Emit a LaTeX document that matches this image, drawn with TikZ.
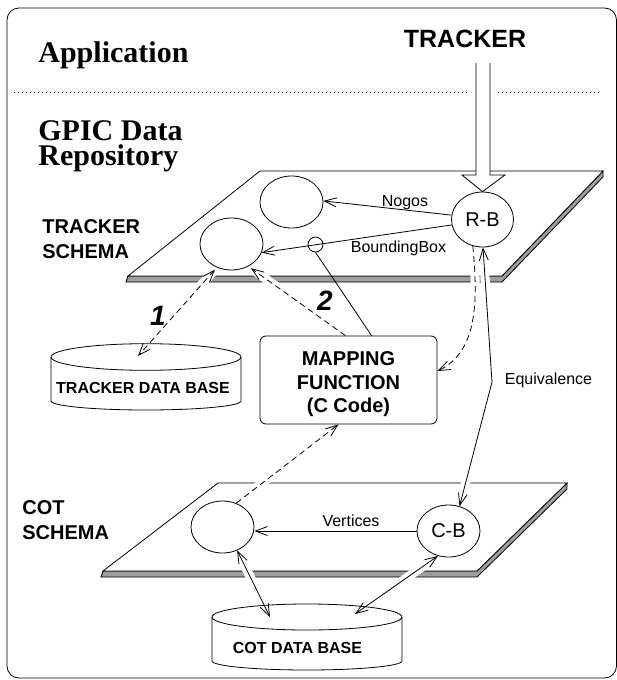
\documentclass[tikz,border=0pt]{standalone}
\usepackage{fontspec}
\setmainfont{Liberation Serif}
\setsansfont{Liberation Sans}
\usetikzlibrary{arrows.meta,shapes.geometric,calc}
\begin{document}
\begin{tikzpicture}[x=1pt,y=-1pt,line width=0.8pt,
  >={Straight Barb[length=12pt,width=9pt]},
  ell/.style={draw,ellipse,minimum width=63pt,minimum height=52pt,inner sep=0pt,
    font=\sffamily\fontsize{20}{24}\selectfont},
  lbl/.style={inner sep=0pt,anchor=base,font=\sffamily\fontsize{16}{19}\selectfont},
  blbl/.style={inner sep=0pt,anchor=base west,font=\sffamily\bfseries\fontsize{20}{24}\selectfont},
  mlbl/.style={inner sep=0pt,anchor=base,font=\sffamily\bfseries\fontsize{20}{24}\selectfont},
  dblbl/.style={inner sep=0pt,anchor=base,font=\sffamily\bfseries\fontsize{16}{19}\selectfont},
  ttl/.style={inner sep=0pt,anchor=base west,font=\rmfamily\bfseries\fontsize{30}{32}\selectfont},
  num/.style={inner sep=0pt,anchor=base,font=\sffamily\bfseries\itshape\fontsize{28}{30}\selectfont},
  dsh/.style={dash pattern=on 6pt off 4pt},
  plane/.style={fill=white,draw,line join=miter},
  shadowband/.style={fill=black!38,draw,line join=miter},
  halo/.style={draw=white,line width=9pt},
  dots/.style={line width=0.7pt,dash pattern=on 1pt off 3pt}]

\useasboundingbox (0,0) rectangle (617,680);
\draw[rounded corners=12pt] (7,8) rectangle (616.5,678);

% titles
\node[ttl] (app) at (38,62) {Application};
\node[ttl,text height=20pt,text depth=0pt] (gpic1) at (38,140) {GPIC Data};
\node[ttl,text height=18pt] (gpic2) at (38,165) {Repository};
\node[inner sep=0pt,anchor=base,font=\sffamily\bfseries\fontsize{25}{28}\selectfont] (trk) at (465,47) {TRACKER};

% dotted separator
\coordinate (d1) at (14,92);
\coordinate (d2) at (470,92);
\coordinate (d3) at (498,92);
\coordinate (d4) at (600,92);
\draw[dots] (d1) -- (d2) (d3) -- (d4);

% planes
\draw[shadowband] (128,276) -- (502,276) -- (603,171) -- (603,177) -- (502,282) -- (126,282) -- cycle;
\draw[plane] (260,171) -- (603,171) -- (502,276) -- (128,276) -- cycle;
\draw[shadowband] (103,571) -- (477,571) -- (567,483) -- (567,489) -- (477,577) -- (101,577) -- cycle;
\draw[plane] (218,483) -- (567,483) -- (477,571) -- (103,571) -- cycle;

% schema labels
\node[blbl] (ts1) at (42,233) {TRACKER};
\node[blbl] (ts2) at (42,258) {SCHEMA};
\node[blbl] (cs1) at (22,514) {COT};
\node[blbl] (cs2) at (22,539) {SCHEMA};

% nodes
\node[ell] (e1) at (291.5,202) {};
\node[ell] (e2) at (231.5,244) {};
\node[ell,minimum width=62pt,minimum height=55pt] (rb) at (482.5,219.5) {R-B};
\node[draw,circle,minimum size=15pt,inner sep=0pt] (sc) at (315.5,244.5) {};
\node[ell] (e3) at (222.5,527) {};
\node[ell] (cb) at (448.5,531) {C-B};

\node[draw,rounded corners=6pt,minimum width=177pt,minimum height=88pt,inner sep=0pt] (mf) at (348.5,380) {};
\node[mlbl] (mf1) at (348.5,365) {MAPPING};
\node[mlbl] (mf2) at (348.5,389) {FUNCTION};
\node[mlbl] (mf3) at (348.5,412) {(C Code)};

% cylinders
\draw (51,357) -- (51,401) arc[start angle=180,end angle=0,x radius=95,y radius=9] -- (241,357);
\draw (146,357) ellipse[x radius=95,y radius=13.3];
\node[dblbl] (tdb) at (143,393) {TRACKER DATA BASE};
\coordinate (tdbtop) at (138,356);

\draw (212,617) -- (212,661) arc[start angle=180,end angle=0,x radius=95,y radius=9] -- (402,617);
\draw (307,617) ellipse[x radius=95,y radius=13];
\node[dblbl] (cdb) at (297.5,653) {COT DATA BASE};
\coordinate (cdbtop1) at (270,617);
\coordinate (cdbtop2) at (355,614);

% helper coordinates
\coordinate (mfn) at ($(mf.north)+(-3,0)$);
\coordinate (mfn2) at ($(mf.north west)+(112,0)$);
\coordinate (mfe) at ($(mf.east)+(0,-9)$);
\coordinate (mfs) at ($(mf.south)+(-10,0)$);
\coordinate (eqb) at (492,382);

% white gaps where connectors cross plane edges
\begin{scope}
\clip (100,272.5) rectangle (520,284) (200,479.5) rectangle (580,486.5) (95,568.5) rectangle (500,580);
\draw[halo] (e2.-122) -- (tdbtop);
\draw[halo] (mfn) -- (e2.-53);
\draw[halo] (rb.-110) .. controls (478,300) and (478,352) .. (mfe);
\draw[halo] (rb.-89) -- (eqb) -- (cb.66);
\draw[halo] (e3.60) -- (mfs);
\draw[halo] (e3.-58) -- (cdbtop1);
\draw[halo] (cb.-113) -- (cdbtop2);
\end{scope}

% TRACKER block arrow
\coordinate (ta1) at (476,63);
\coordinate (ta2) at (490,63);
\fill[white] (ta1) -- (476,175) -- (462,175) -- (rb.north) -- (505,175) -- (490,175) -- (ta2) -- cycle;
\draw[line join=miter] (ta1) -- (476,175) -- (462,175) -- (rb.north) -- (505,175) -- (490,175) -- (ta2);

% connectors
\draw[->] (rb.172) -- (e1.2);
\node[lbl] (nogos) at (405,206) {Nogos};
\draw[->] (rb.190) -- (e2.-16);
\node[lbl] (bbox) at (398.5,252) {BoundingBox};
\draw (sc.south) -- (mfn2);
\draw[<->,dsh,shorten <=3pt] (e2.-122) -- (tdbtop);
\draw[->,dsh,shorten >=3pt] (mfn) -- (e2.-53);
\node[num] (n1) at (158,325) {1};
\node[num] (n2) at (325,310) {2};
\draw[->,dsh] (rb.-110) .. controls (478,300) and (478,352) .. (mfe);
\draw[<->] (rb.-89) -- (eqb) -- (cb.66);
\node[lbl] (equiv) at (548.5,384) {Equivalence};
\draw[->,dsh] (e3.60) -- (mfs);
\draw[->] (cb.west) -- (e3.east |- cb.west);
\node[lbl] (vert) at (351,526) {Vertices};
\draw[<->] (e3.-58) -- (cdbtop1);
\draw[<->] (cb.-113) -- (cdbtop2);
\end{tikzpicture}
\end{document}
